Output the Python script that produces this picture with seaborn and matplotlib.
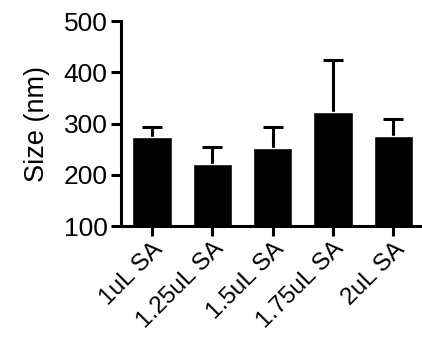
import matplotlib
matplotlib.use("Agg")
import matplotlib.pyplot as plt
import seaborn as sns
import pandas as pd

categories = ["1uL SA", "1.25uL SA", "1.5uL SA", "1.75uL SA", "2uL SA"]
mean_size = [273, 221, 253, 323, 276]
upper_err = [20, 34, 41, 102, 33]

sns.set_style("ticks")
plt.rcParams["font.family"] = ["Liberation Sans", "DejaVu Sans"]

df = pd.DataFrame({"group": categories, "size": mean_size})

fig = plt.figure(figsize=(4.22, 3.41), dpi=100)
ax = fig.add_axes([0.286, 0.337, 0.713, 0.601])

sns.barplot(data=df, x="group", y="size", color="black", width=0.65,
            errorbar=None, ax=ax, zorder=2)
# symmetric bars drawn behind the columns, so only the upper half shows
ax.errorbar(range(len(categories)), mean_size, yerr=upper_err,
            fmt="none", ecolor="black", elinewidth=2.2, capsize=7.5,
            capthick=2.2, zorder=1)

ax.set_ylim(100, 500)
ax.set_yticks([100, 200, 300, 400, 500])
ax.set_xlim(-0.52, 4.47)
ax.set_xlabel("")
ax.set_ylabel("Size (nm)", fontsize=19.5, labelpad=10, color="black")

for side in ("top", "right"):
    ax.spines[side].set_visible(False)
for side in ("left", "bottom"):
    ax.spines[side].set_linewidth(2.2)
    ax.spines[side].set_color("black")

ax.tick_params(axis="both", width=2.2, length=7.5, color="black",
               labelsize=19, labelcolor="black", pad=2)
ax.tick_params(axis="x", labelsize=17.5, pad=1)
ax.set_xticks(range(len(categories)))
ax.set_xticklabels(categories, rotation=45, ha="right",
                   rotation_mode="anchor")

fig.savefig("out.png", dpi=100)
